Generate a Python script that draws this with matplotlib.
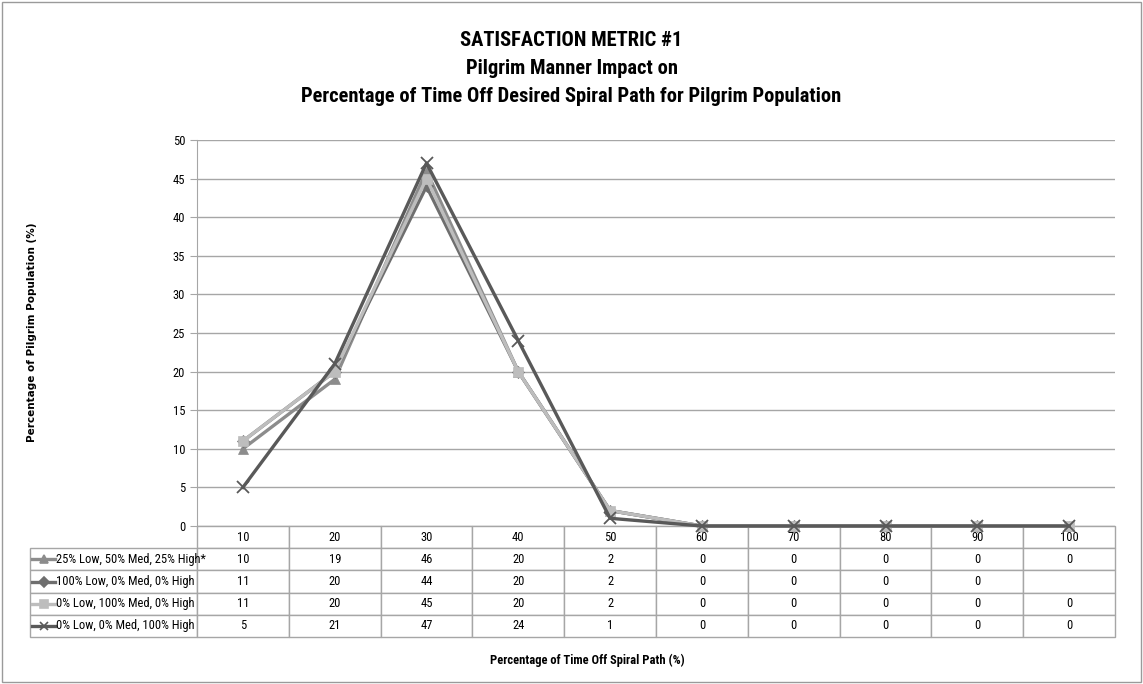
import numpy as np
import matplotlib
matplotlib.use('Agg')
import matplotlib.pyplot as plt
from matplotlib import font_manager
from matplotlib.lines import Line2D
from matplotlib.patches import Rectangle

# pick a narrow font if one is available (the original uses Calibri)
installed = {f.name for f in font_manager.fontManager.ttflist}
narrow = next((f for f in ['Liberation Sans Narrow', 'Roboto Condensed', 'Open Sans Condensed',
                           'Noto Sans Condensed', 'Roboto', 'Lato']
               if f in installed), 'DejaVu Sans')
plt.rcParams['font.family'] = [narrow, 'DejaVu Sans']

# data
categories = [10, 20, 30, 40, 50, 60, 70, 80, 90, 100]
series_names = ['25% Low, 50% Med, 25% High*',
                '100% Low, 0% Med, 0% High',
                '0% Low, 100% Med, 0% High',
                '0% Low, 0% Med, 100% High']
mixed = [10, 19, 46, 20, 2, 0, 0, 0, 0, 0]
all_low = [11, 20, 44, 20, 2, 0, 0, 0, 0, None]
all_med = [11, 20, 45, 20, 2, 0, 0, 0, 0, 0]
all_high = [5, 21, 47, 24, 1, 0, 0, 0, 0, 0]
series_values = [mixed, all_low, all_med, all_high]

colors = ['#8c8c8c', '#6e6e6e', '#bdbdbd', '#595959']
markers = ['^', 'D', 's', 'x']
grid_col = '#a6a6a6'
small_fs = 9

fig = plt.figure(figsize=(11.43, 6.84), dpi=100)
W, H = 1143, 684
# plot area in pixels
px_l, px_r, px_t, px_b = 197, 1115, 140, 526
ax = fig.add_axes([px_l / W, 1 - px_b / H, (px_r - px_l) / W, (px_b - px_t) / H])

# outer chart frame
fig.patches.append(Rectangle((2 / W, 2 / H), 1 - 4 / W, 1 - 4 / H, transform=fig.transFigure,
                             fill=False, edgecolor='#9a9a9a', linewidth=1))

x = np.arange(len(categories))
for vals, col, mk in zip(series_values, colors, markers):
    y = np.array([np.nan if v is None else v for v in vals], dtype=float)
    ax.plot(x, y, color=col, linewidth=2.4, marker=mk,
            markersize={'^': 7, 'D': 6, 's': 7, 'x': 8}[mk],
            markeredgewidth=1.3 if mk == 'x' else 0.5, markerfacecolor=col,
            markeredgecolor=col, clip_on=False, zorder=3)

ax.set_xlim(-0.5, len(categories) - 0.5)
ax.set_ylim(0, 50)
ax.set_yticks(range(0, 51, 5))
ax.set_xticks([])
ax.yaxis.grid(True, color=grid_col, linewidth=1)
ax.set_axisbelow(True)
for s in ['top', 'right', 'bottom']:
    ax.spines[s].set_visible(False)
ax.spines['left'].set_color(grid_col)
ax.tick_params(axis='y', colors=grid_col, labelcolor='black', labelsize=small_fs, length=5)

# data table under the plot
ax_h = px_b - px_t
ax_w = px_r - px_l
lab_w = (px_r - 30) / ax_w - 1
tab_h = 111 / ax_h
cell_text = [[''] + [str(c) for c in categories]]
for vals in series_values:
    cell_text.append([''] + ['' if v is None else str(v) for v in vals])
col_widths = [lab_w] + [1 / len(categories)] * len(categories)
tab = ax.table(cellText=cell_text, colWidths=col_widths, cellLoc='center',
               bbox=[-lab_w, -tab_h, 1 + lab_w, tab_h])
tab.auto_set_font_size(False)
tab.set_fontsize(small_fs)
for (r, c), cell in tab.get_celld().items():
    cell.set_edgecolor(grid_col)
    cell.set_linewidth(1)
    if r == 0 and c == 0:
        cell.set_visible(False)

# row labels with legend keys
row_h = tab_h / 5
for i, (name, col, mk) in enumerate(zip(series_names, colors, markers)):
    yc = -row_h * (i + 1.5)
    x0 = -lab_w + 2 / ax_w
    ax.add_line(Line2D([x0, x0 + 23 / ax_w], [yc, yc], transform=ax.transAxes, color=col,
                       linewidth=2.4, clip_on=False))
    ax.add_line(Line2D([x0 + 11.5 / ax_w], [yc], transform=ax.transAxes, color=col,
                       marker=mk, markersize=5.5, markerfacecolor=col, markeredgecolor=col,
                       markeredgewidth=1.2, clip_on=False))
    ax.text(x0 + 24 / ax_w, yc, name, transform=ax.transAxes, ha='left', va='center',
            fontsize=small_fs)

# titles and axis labels
for yy, line in zip([40, 68, 96], ['SATISFACTION METRIC #1', 'Pilgrim Manner Impact on',
                                   'Percentage of Time Off Desired Spiral Path for Pilgrim Population']):
    fig.text(0.5, 1 - yy / H, line, ha='center', va='center', fontsize=14.8, fontweight='bold')
fig.text(32 / W, 1 - 332 / H, 'Percentage of Pilgrim Population (%)', rotation=90,
         ha='center', va='center', fontsize=7.5, fontweight='bold', family='DejaVu Sans')
fig.text(587 / W, 1 - 660 / H, 'Percentage of Time Off Spiral Path (%)', ha='center',
         va='center', fontsize=9, fontweight='bold')

fig.savefig('out.png', dpi=100)
